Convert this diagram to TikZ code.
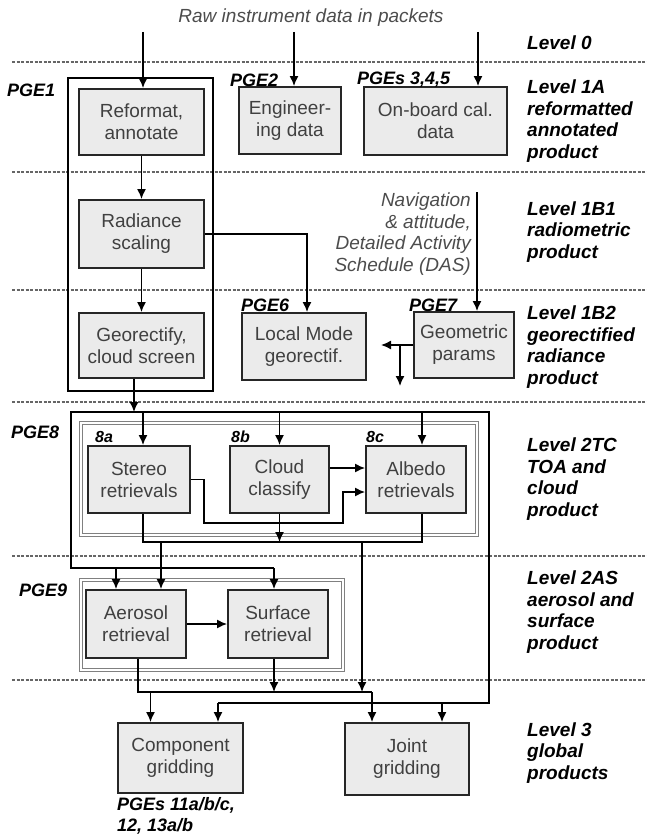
\documentclass[tikz,border=0pt]{standalone}
\usepackage{fontspec}
\setmainfont{Liberation Sans}
\usetikzlibrary{arrows.meta,calc}

\tikzset{
  box/.style={draw=black!85, line width=1.9pt, fill=black!8, text=black!75, align=center,
    inner sep=0pt, font=\fontsize{19}{22}\selectfont},
  grp/.style={draw=black!50, double=white, double distance=1.6pt, line width=0.8pt},
  lvl/.style={anchor=west, align=left, inner sep=0pt, font=\fontsize{19}{21.5}\selectfont\bfseries\itshape},
  pge/.style={anchor=west, inner sep=0pt, font=\fontsize{18}{21.5}\selectfont\bfseries\itshape},
  sub/.style={anchor=west, inner sep=0pt, font=\fontsize{16}{18}\selectfont\bfseries\itshape},
  note/.style={inner sep=0pt, text=black!70, font=\fontsize{19}{21.7}\selectfont\itshape},
  arr/.style={line width=1.5pt, -{Latex[length=10pt,width=9pt]}},
  flow/.style={line width=1.5pt},
  levelline/.style={draw=black!60, line width=2pt, dash pattern=on 3pt off 1.5pt}
}

\begin{document}
\begin{tikzpicture}[x=1pt, y=-1pt]
\useasboundingbox (0,0) rectangle (647,840);

% level separators
\foreach \ly in {62,172,290,402,556,680}
  \draw[levelline] (12,\ly) -- (647,\ly);

% level names
\node[lvl] (lv0)   at (527,43)  {Level 0};
\node[lvl] (lv1a)  at (527,121) {Level 1A\\reformatted\\annotated\\product};
\node[lvl] (lv1b1) at (527,232) {Level 1B1\\radiometric\\product};
\node[lvl] (lv1b2) at (527,347) {Level 1B2\\georectified\\radiance\\product};
\node[lvl] (lv2tc) at (527,479) {Level 2TC\\TOA and\\cloud\\product};
\node[lvl] (lv2as) at (527,612) {Level 2AS\\aerosol and\\surface\\product};
\node[lvl] (lv3)   at (527,753) {Level 3\\global\\products};

% input
\node[note] (raw) at (311,18) {Raw instrument data in packets};
\coordinate (in1) at (143,32);
\coordinate (in2) at (294,32);
\coordinate (in3) at (478,32);

% processing boxes
\node[box, minimum width=125pt, minimum height=66pt] (reformat) at (141.5,122) {Reformat,\\annotate};
\node[box, minimum width=102pt, minimum height=67pt] (engineer) at (290,120.5) {Engineer-\\ing data};
\node[box, minimum width=143pt, minimum height=68pt] (onboard) at (435.5,121) {On-board cal.\\data};
\node[box, minimum width=125pt, minimum height=68pt] (radiance) at (141.5,234) {Radiance\\scaling};
\node[box, minimum width=125pt, minimum height=65pt] (georect) at (141.5,345.5) {Georectify,\\cloud screen};
\node[box, minimum width=124pt, minimum height=67pt] (localmode) at (304,346.5) {Local Mode\\georectif.};
\node[box, minimum width=100pt, minimum height=66pt] (geometric) at (464,345) {Geometric\\params};
\node[box, minimum width=102pt, minimum height=67pt] (stereo) at (139,479.5) {Stereo\\retrievals};
\node[box, minimum width=99pt, minimum height=67pt] (cloud) at (279.5,479.5) {Cloud\\classify};
\node[box, minimum width=100pt, minimum height=67pt] (albedo) at (416,479.5) {Albedo\\retrievals};
\node[box, minimum width=100pt, minimum height=68pt] (aerosol) at (136,624) {Aerosol\\retrieval};
\node[box, minimum width=100pt, minimum height=68pt] (surface) at (278,624) {Surface\\retrieval};
\node[box, minimum width=125pt, minimum height=70pt] (component) at (180.5,758) {Component\\gridding};
\node[box, minimum width=124pt, minimum height=72pt] (joint) at (407,759) {Joint\\gridding};

% PGE groups
\draw[line width=1.1pt] (68,78) rectangle (213,391);
\draw[grp] (81,423) rectangle (477,535);
\draw[grp] (81,580) rectangle (343,670);

\node[pge] (pge1) at (7,90) {PGE1};
\node[pge] (pge2) at (230,80) {PGE2};
\node[pge] (pge345) at (357,80) {PGEs 3,4,5};
\node[pge] (pge6) at (241,305) {PGE6};
\node[pge] (pge7) at (409,305) {PGE7};
\node[pge] (pge8) at (11,432) {PGE8};
\node[pge] (pge9) at (19,590) {PGE9};
\node[sub] (p8a) at (95,437) {8a};
\node[sub] (p8b) at (231,437) {8b};
\node[sub] (p8c) at (366,437) {8c};
\node[pge, anchor=north west, align=left] (pge11) at (117,797) {PGEs 11a/b/c,\\12, 13a/b};

\node[note, anchor=east, align=right] (nav) at (471,234) {Navigation\\\& attitude,\\Detailed Activity\\Schedule (DAS)};
\coordinate (navtop) at (477,192);

% level 0 -> 1A
\draw[arr] (in1) -- (in1 |- reformat.north);
\draw[arr] (in2) -- (in2 |- engineer.north);
\draw[arr] (in3) -- (in3 |- onboard.north);

% level 1
\draw[arr] (reformat) -- (radiance);
\draw[arr] (radiance) -- (georect);
\draw[arr] (radiance.east) -| ([xshift=3pt]localmode.north);
\draw[arr] (navtop) -- (navtop |- geometric.north);
\coordinate (geoout) at (381,345);
\coordinate (geodown) at (400,386);
\draw[arr] (geometric.west) -- (geoout);
\draw[arr] (geodown |- geoout) -- (geodown);

% into PGE8 and beyond
\coordinate (t8l) at (71,412);
\coordinate (t8r) at (489,412);
\coordinate (b9l) at (71,568);
\coordinate (b9r) at (274,568);
\coordinate (b3r) at (489,703);
\coordinate (b3l) at (218,703);
\draw[arr] (georect.south -| 134,0) -- (134,412);
\draw[flow] (b9r) -- (b9l) -- (t8l) -- (t8r) -- (b3r) -- (b3l);
\draw[arr] ([xshift=4pt]stereo.north |- t8l) -- ([xshift=4pt]stereo.north);
\draw[arr] (cloud.north |- t8l) -- (cloud.north);
\draw[arr] ([xshift=6pt]albedo.north |- t8l) -- ([xshift=6pt]albedo.north);

% inside PGE8
\draw[arr] ([yshift=11.5pt]cloud.east) -- ([yshift=11.5pt]albedo.west);
\coordinate (r1) at (204,523);
\coordinate (r2) at (343,523);
\draw[arr] (stereo.east) -| (r1) -- (r2) |- ([yshift=-12.5pt]albedo.west);
\coordinate (m1) at (143,542);
\coordinate (m2) at (422,542);
\draw[flow] ([xshift=4pt]stereo.south) -- (m1) -- (m2) -- ([xshift=6pt]albedo.south);
\draw[arr] (cloud.south) -- (cloud.south |- m1);

% into PGE9
\draw[arr] ([xshift=-20pt]aerosol.north |- b9l) -- ([xshift=-20pt]aerosol.north);
\draw[arr] ([xshift=25pt]aerosol.north |- m1) -- ([xshift=25pt]aerosol.north);
\draw[arr] (b9r) -- (b9r |- surface.north);
\draw[arr] (aerosol) -- (surface);

% into level 3
\coordinate (a2) at (372,692);
\coordinate (lg) at (362,542);
\draw[flow] ([xshift=2pt]aerosol.south) |- (a2);
\draw[arr] ([xshift=-4pt]surface.south) -- ([xshift=-4pt]surface.south |- a2);
\draw[arr] (lg) -- (lg |- a2);
\draw[arr] ([xshift=-30pt]component.north |- a2) -- ([xshift=-30pt]component.north);
\draw[arr] (a2) -- (a2 |- joint.north);
\draw[arr] (b3l) -- (b3l |- component.north);
\draw[arr] ([xshift=35pt]joint.north |- b3r) -- ([xshift=35pt]joint.north);
\end{tikzpicture}
\end{document}
